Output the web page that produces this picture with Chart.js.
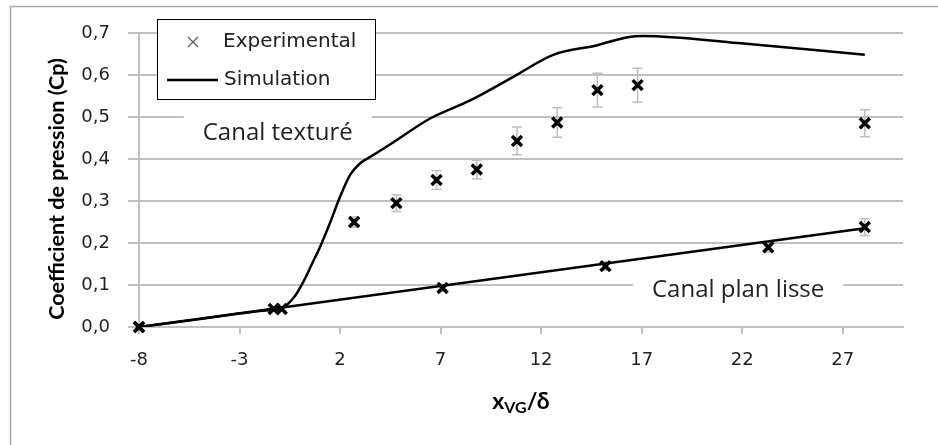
<!DOCTYPE html>
<html>
<head>
<meta charset="utf-8">
<script src="https://cdn.jsdelivr.net/npm/chart.js@4"></script>
<style>body{margin:0;background:#fff}</style>
</head>
<body>
<canvas id="chart" width="938" height="445"></canvas>
<script>
// measured points, canal texturé
const texX = [-8, -1.3, 2.7, 4.8, 6.8, 8.8, 10.8, 12.8, 14.8, 16.8, 28.1]
const texY = [0, 0.043, 0.25, 0.295, 0.35, 0.375, 0.443, 0.487, 0.564, 0.576, 0.485]
const texErr = [0, 0.005, 0.012, 0.02, 0.022, 0.022, 0.033, 0.035, 0.04, 0.04, 0.032]
// measured points, canal plan lisse
const smoothX = [-8, -0.9, 7.1, 15.2, 23.3, 28.1]
const smoothY = [0, 0.043, 0.093, 0.145, 0.19, 0.238]
const smoothErr = [0, 0.005, 0.008, 0.01, 0.012, 0.02]
// simulations
const simTexX = [-8, -4.5, -2, -0.9, -0.3, 0.2, 0.6, 1.0, 1.5, 2.0, 2.5, 3.0, 3.5, 4.5, 6.5, 8.5, 10.6, 12.6, 14.8, 16.3, 17.1, 21.8, 28.1]
const simTexY = [0, 0.022, 0.038, 0.045, 0.07, 0.11, 0.15, 0.19, 0.248, 0.31, 0.362, 0.39, 0.405, 0.435, 0.497, 0.54, 0.595, 0.648, 0.671, 0.69, 0.693, 0.676, 0.648]
const simSmoothX = [-8, 28.1]
const simSmoothY = [0, 0.235]

const xTicks = [-8, -3, 2, 7, 12, 17, 22, 27]

const pts = (xs, ys) => xs.map((x, i) => ({x: x, y: ys[i]}))
const gridGray = '#c0c0c0'

const decor = {
    id: 'decor',
    beforeDraw(chart) {
        const ctx = chart.ctx
        ctx.save()
        ctx.strokeStyle = '#a6a6a6'
        ctx.lineWidth = 1.5
        ctx.strokeRect(10.5, 6.5, 2000, 2000)
        ctx.restore()
    },
    beforeDatasetsDraw(chart) {
        const ctx = chart.ctx
        const xs = chart.scales.x, ys = chart.scales.y
        ctx.save()
        // labels on the plot
        ctx.font = '24px "Open Sans"'
        ctx.textAlign = 'center'
        ctx.textBaseline = 'middle'
        const notes = [['Canal texturé', -1.1, 0.462], ['Canal plan lisse', 21.8, 0.088]]
        notes.forEach(n => {
            const px = xs.getPixelForValue(n[1]), py = ys.getPixelForValue(n[2])
            const w = ctx.measureText(n[0]).width + 38
            ctx.fillStyle = '#fff'
            ctx.fillRect(px - w / 2, py - 20, w, 36)
            ctx.fillStyle = '#222'
            ctx.fillText(n[0], px, py)
        })
        // error bars
        ctx.strokeStyle = '#bdbdbd'
        ctx.lineWidth = 1.5
        const bars = (xv, yv, ev) => xv.forEach((x, i) => {
            if (!ev[i]) return
            const px = xs.getPixelForValue(x)
            const top = ys.getPixelForValue(yv[i] + ev[i])
            const bot = ys.getPixelForValue(yv[i] - ev[i])
            ctx.beginPath()
            ctx.moveTo(px, top); ctx.lineTo(px, bot)
            ctx.moveTo(px - 5, top); ctx.lineTo(px + 5, top)
            ctx.moveTo(px - 5, bot); ctx.lineTo(px + 5, bot)
            ctx.stroke()
        })
        bars(texX, texY, texErr)
        bars(smoothX, smoothY, smoothErr)
        ctx.restore()
    },
    afterDraw(chart) {
        const ctx = chart.ctx
        const area = chart.chartArea
        ctx.save()
        // legend
        ctx.fillStyle = '#fff'
        ctx.fillRect(157, 19, 218, 80)
        ctx.strokeStyle = '#000'
        ctx.lineWidth = 1
        ctx.strokeRect(157.5, 19.5, 218, 80)
        ctx.strokeStyle = '#555'
        ctx.lineWidth = 1.2
        ctx.beginPath()
        ctx.moveTo(188, 37); ctx.lineTo(198, 47)
        ctx.moveTo(198, 37); ctx.lineTo(188, 47)
        ctx.stroke()
        ctx.strokeStyle = '#000'
        ctx.lineWidth = 2.5
        ctx.beginPath()
        ctx.moveTo(167, 80); ctx.lineTo(218, 80)
        ctx.stroke()
        ctx.fillStyle = '#222'
        ctx.font = '20px "DejaVu Sans"'
        ctx.textBaseline = 'middle'
        ctx.fillText('Experimental', 223, 42)
        ctx.fillText('Simulation', 224, 80)
        // axis titles
        ctx.fillStyle = '#000'
        ctx.font = 'bold 21.5px Lato'
        ctx.textAlign = 'center'
        ctx.save()
        ctx.translate(57, 189)
        ctx.rotate(-Math.PI / 2)
        ctx.fillText('Coefficient de pression (Cp)', 0, 0)
        ctx.restore()
        const big = 'bold 23px Lato', small = 'bold 16px Lato'
        ctx.textAlign = 'left'
        ctx.textBaseline = 'alphabetic'
        ctx.font = big
        const w1 = ctx.measureText('x').width
        const w3 = ctx.measureText('/δ').width
        ctx.font = small
        const w2 = ctx.measureText('VG').width
        let x0 = (area.left + area.right) / 2 - (w1 + w2 + w3) / 2
        const base = 409
        ctx.font = big
        ctx.fillText('x', x0, base)
        ctx.font = small
        ctx.fillText('VG', x0 + w1, base + 4)
        ctx.font = big
        ctx.fillText('/δ', x0 + w1 + w2, base)
        ctx.restore()
    }
}

const marker = {
    showLine: false,
    pointStyle: 'crossRot',
    pointRadius: 7,
    pointBorderWidth: 3.5,
    borderColor: '#000',
    backgroundColor: '#000',
    clip: false
}
const simLine = {
    showLine: true,
    pointRadius: 0,
    borderColor: '#000',
    borderWidth: 2.5,
    cubicInterpolationMode: 'monotone'
}

new Chart(document.getElementById('chart'), {
    type: 'scatter',
    data: {
        datasets: [
            Object.assign({label: 'Simulation', data: pts(simTexX, simTexY)}, simLine),
            Object.assign({label: 'Simulation lisse', data: pts(simSmoothX, simSmoothY)}, simLine),
            Object.assign({label: 'Experimental', data: pts(texX, texY)}, marker),
            Object.assign({label: 'Experimental lisse', data: pts(smoothX, smoothY)}, marker)
        ]
    },
    options: {
        responsive: false,
        animation: false,
        layout: {padding: {top: 33, right: 35, left: 0, bottom: 0}},
        plugins: {legend: {display: false}, tooltip: {enabled: false}},
        scales: {
            x: {
                type: 'linear',
                min: -8,
                max: 30,
                afterBuildTicks: axis => { axis.ticks = xTicks.map(v => ({value: v})) },
                afterFit: axis => { axis.height = 118 },
                grid: {drawOnChartArea: false, color: gridGray, lineWidth: 2, tickLength: 7},
                border: {color: gridGray, width: 2},
                ticks: {color: '#222', font: {family: 'DejaVu Sans', size: 18}, padding: 16, maxRotation: 0}
            },
            y: {
                min: 0,
                max: 0.7,
                afterFit: axis => { axis.width = 139 },
                grid: {color: gridGray, lineWidth: 2, tickLength: 11},
                border: {color: gridGray, width: 2},
                ticks: {
                    stepSize: 0.1,
                    color: '#222',
                    font: {family: 'DejaVu Sans', size: 18},
                    padding: 18,
                    callback: v => v.toFixed(1).replace('.', ',')
                }
            }
        }
    },
    plugins: [decor]
})
</script>
</body>
</html>
